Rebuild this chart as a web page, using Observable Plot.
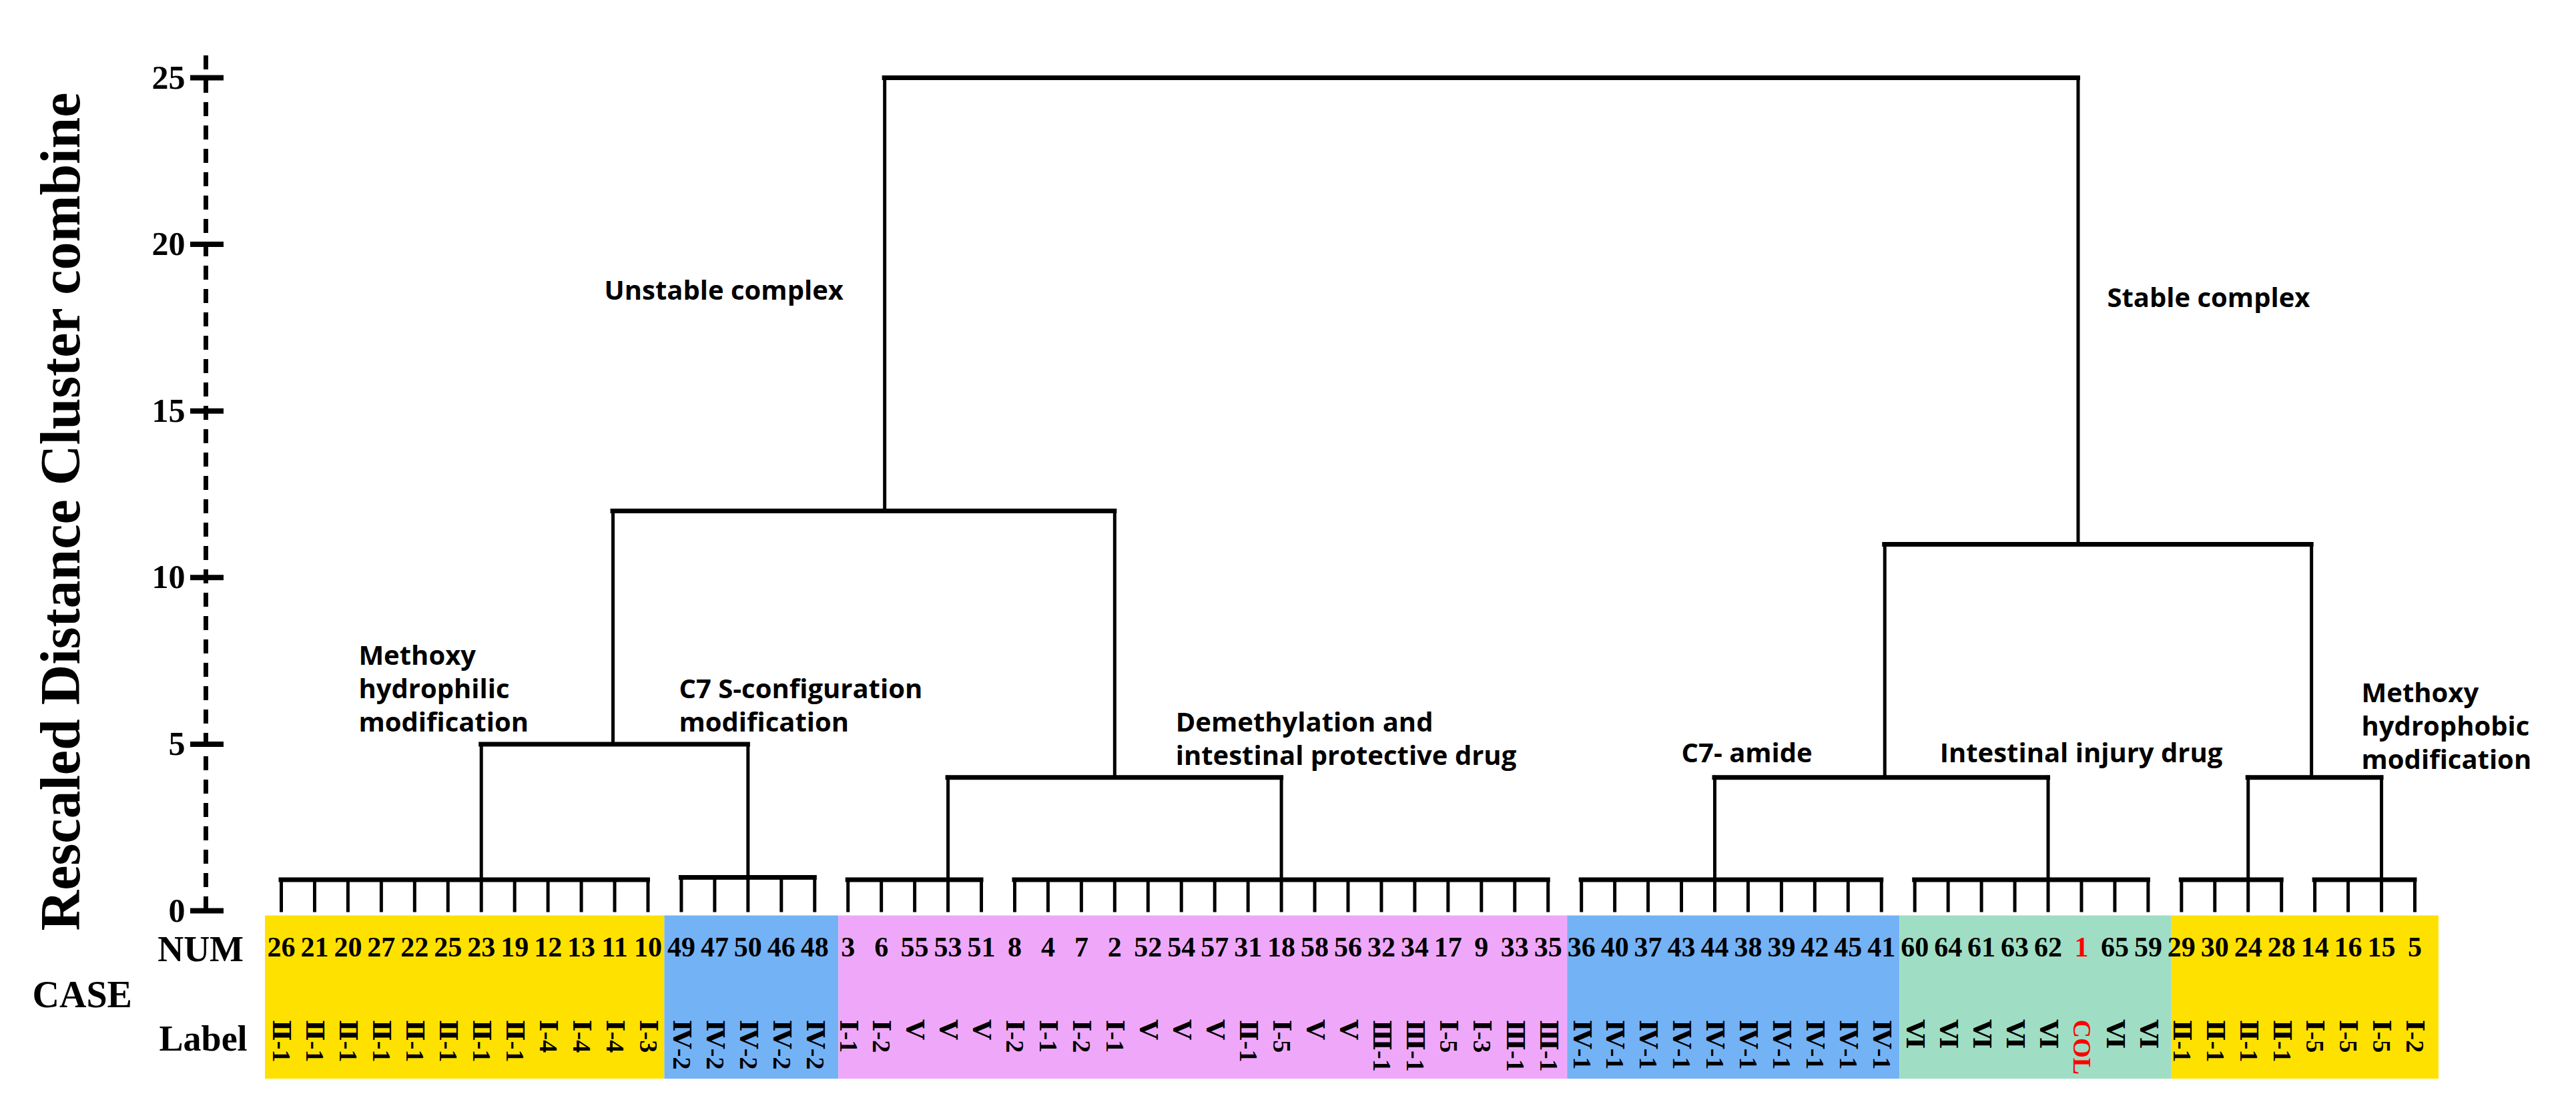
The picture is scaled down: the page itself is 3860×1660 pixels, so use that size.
<!DOCTYPE html>
<html><head><meta charset="utf-8">
<script src="https://cdn.jsdelivr.net/npm/d3@7"></script>
<script src="https://cdn.jsdelivr.net/npm/@observablehq/plot@0.6"></script>
<style>html,body{margin:0;padding:0;background:#fff;} svg{display:block}</style>
</head><body><div id="chart"></div>
<script>
// ---- data ----
const nums = [26,21,20,27,22,25,23,19,12,13,11,10,
              49,47,50,46,48,
              3,6,55,53,51,
              8,4,7,2,52,54,57,31,18,58,56,32,34,17,9,33,35,
              36,40,37,43,44,38,39,42,45,41,
              60,64,61,63,62,1,65,59,
              29,30,24,28,
              14,16,15,5];
const labels = ["Ⅱ-1","Ⅱ-1","Ⅱ-1","Ⅱ-1","Ⅱ-1","Ⅱ-1","Ⅱ-1","Ⅱ-1","Ⅰ-4","Ⅰ-4","Ⅰ-4","Ⅰ-3",
                "Ⅳ-2","Ⅳ-2","Ⅳ-2","Ⅳ-2","Ⅳ-2",
                "Ⅰ-1","Ⅰ-2","Ⅴ","Ⅴ","Ⅴ",
                "Ⅰ-2","Ⅰ-1","Ⅰ-2","Ⅰ-1","Ⅴ","Ⅴ","Ⅴ","Ⅱ-1","Ⅰ-5","Ⅴ","Ⅴ","Ⅲ-1","Ⅲ-1","Ⅰ-5","Ⅰ-3","Ⅲ-1","Ⅲ-1",
                "Ⅳ-1","Ⅳ-1","Ⅳ-1","Ⅳ-1","Ⅳ-1","Ⅳ-1","Ⅳ-1","Ⅳ-1","Ⅳ-1","Ⅳ-1",
                "Ⅵ","Ⅵ","Ⅵ","Ⅵ","Ⅵ","COL","Ⅵ","Ⅵ",
                "Ⅱ-1","Ⅱ-1","Ⅱ-1","Ⅱ-1",
                "Ⅰ-5","Ⅰ-5","Ⅰ-5","Ⅰ-2"];
const highlightCase = 1; // COL, drawn in red

// first-level clusters: leaf index range, stem leaf, join distance
const clusterFrom   = [0, 12, 17, 22, 39, 49, 57, 61];
const clusterTo     = [11, 16, 21, 38, 48, 56, 60, 64];
const clusterStem   = [6, 14, 20, 30, 43, 53, 59, 63];
const clusterHeight = [0.93, 1.0, 0.93, 0.93, 0.93, 0.93, 0.93, 0.93];

// higher merges
const mergeName   = ["N1","N2","N3","N4","N5","N6","root"];
const mergeLeft   = ["C1","C3","C5","C7","N1","N3","N5"];
const mergeRight  = ["C2","C4","C6","C8","N2","N4","N6"];
const mergeHeight = [5.0, 4.0, 4.0, 4.0, 12.0, 11.0, 25.0];
const mergeStem   = [9.95, 25.0, 48.1, 60.9, 18.1, 53.9, null];

// coloured case bands (in leaf units)
const bandFrom  = [-0.48, 11.5, 16.72, 38.58, 48.55, 56.71];
const bandTo    = [11.5, 16.72, 38.58, 48.55, 56.71, 64.72];
const bandColor = ["#FFE100", "#74B2F6", "#EFA8F9", "#74B2F6", "#9FDEC4", "#FFE100"];

// cluster annotations (left x in leaf units, first baseline in distance units)
const noteText = ["Unstable complex", "Stable complex",
                  "Methoxy\nhydrophilic\nmodification", "C7 S-configuration\nmodification",
                  "Demethylation and\nintestinal protective drug",
                  "C7- amide", "Intestinal injury drug", "Methoxy\nhydrophobic\nmodification"];
const noteX = [9.69, 54.77, 2.32, 11.93, 26.83, 42.0, 49.75, 62.4];
const noteY = [18.47, 18.25, 7.51, 6.51, 5.51, 4.59, 4.59, 6.39];

const yTicks = [0, 5, 10, 15, 20, 25];
const yTitle = "Rescaled Distance Cluster combine";

// ---- build tables ----
const leaves = nums.map((n, i) => ({i, num: n, label: labels[i], red: n === highlightCase}));
const bands = bandFrom.map((f, i) => ({from: f, to: bandTo[i], color: bandColor[i]}));
const notes = noteText.map((t, i) => ({text: t, x: noteX[i], y: noteY[i]}));

const nodePos = {}, nodeTop = {};
const vLines = [], hLines = [];
clusterFrom.forEach((f, k) => {
  const name = "C" + (k + 1);
  nodePos[name] = clusterStem[k]; nodeTop[name] = clusterHeight[k];
  for (let i = f; i <= clusterTo[k]; i++) vLines.push({x: i, y1: 0, y2: clusterHeight[k]});
  hLines.push({y: clusterHeight[k], x1: f, x2: clusterTo[k]});
});
mergeName.forEach((m, k) => {
  const L = mergeLeft[k], R = mergeRight[k], h = mergeHeight[k];
  vLines.push({x: nodePos[L], y1: nodeTop[L], y2: h});
  vLines.push({x: nodePos[R], y1: nodeTop[R], y2: h});
  hLines.push({y: h, x1: nodePos[L], x2: nodePos[R]});
  nodePos[m] = mergeStem[k]; nodeTop[m] = h;
});

const serif = "'Times New Roman', 'Liberation Serif', 'DejaVu Serif', serif";
const sans = "'Open Sans', 'Noto Sans', sans-serif";

// layout positions (in scale units) for the axis furniture
const axisX = -2.262;
const bandTop = -0.15, bandBottom = -5.05;
const numRowY = -1.38, labelRowY = -3.27;

const chart = Plot.plot({
  width: 3860, height: 1660,
  marginLeft: 421, marginRight: 242, marginTop: 116, marginBottom: 296,
  x: {domain: [0, 64], axis: null},
  y: {domain: [0, 25], axis: null},
  color: {type: "identity"},
  style: {background: "white", overflow: "visible"},
  marks: [
    Plot.rect(bands, {x1: "from", x2: "to", y1: bandTop, y2: bandBottom, fill: "color"}),
    // dendrogram
    Plot.ruleX(vLines, {x: "x", y1: "y1", y2: "y2", stroke: "black", strokeWidth: 5, strokeLinecap: "square"}),
    Plot.ruleY(hLines, {y: "y", x1: "x1", x2: "x2", stroke: "black", strokeWidth: 7, strokeLinecap: "square"}),
    // y axis
    Plot.ruleX([axisX], {y1: 0, y2: 25.94, stroke: "black", strokeWidth: 7, strokeDasharray: "21,14"}),
    Plot.ruleY(yTicks, {y: d => d, x1: axisX - 0.46, x2: axisX + 0.54, stroke: "black", strokeWidth: 8}),
    Plot.text(yTicks, {y: d => d, x: axisX - 0.62, text: d => String(d), textAnchor: "end",
      fontSize: 50, fontWeight: "bold", fontFamily: serif, fill: "black"}),
    Plot.text([yTitle], {x: -6.59, y: 11.98, text: d => d, rotate: -90, fontSize: 84,
      fontWeight: "bold", fontFamily: serif, fill: "black"}),
    // row headers
    Plot.text(["NUM"], {x: -2.42, y: -1.52, text: d => d, lineAnchor: "bottom", fontSize: 54, fontWeight: "bold", fontFamily: serif, fill: "black"}),
    Plot.text(["CASE"], {x: -5.97, y: -2.90, text: d => d, lineAnchor: "bottom", fontSize: 56, fontWeight: "bold", fontFamily: serif, fill: "black"}),
    Plot.text(["Label"], {x: -2.34, y: -4.19, text: d => d, lineAnchor: "bottom", fontSize: 54, fontWeight: "bold", fontFamily: serif, fill: "black"}),
    // case numbers and labels
    Plot.text(leaves, {x: "i", y: numRowY, text: d => String(d.num), lineAnchor: "bottom",
      fontSize: 42, fontWeight: "bold", fontFamily: serif, fill: d => d.red ? "#FF0000" : "black"}),
    Plot.text(leaves, {x: "i", y: labelRowY, text: "label", rotate: 90, textAnchor: "start",
      fontSize: 38, fontWeight: "bold", fontFamily: serif, fill: d => d.red ? "#FF0000" : "black"}),
    // annotations
    Plot.text(notes, {x: "x", y: "y", text: "text", textAnchor: "start", lineAnchor: "top", dy: -29,
      lineHeight: 1.25, fontSize: 40, fontWeight: "bold", fontFamily: sans, fill: "black"})
  ]
});
document.getElementById("chart").appendChild(chart);
</script></body></html>
